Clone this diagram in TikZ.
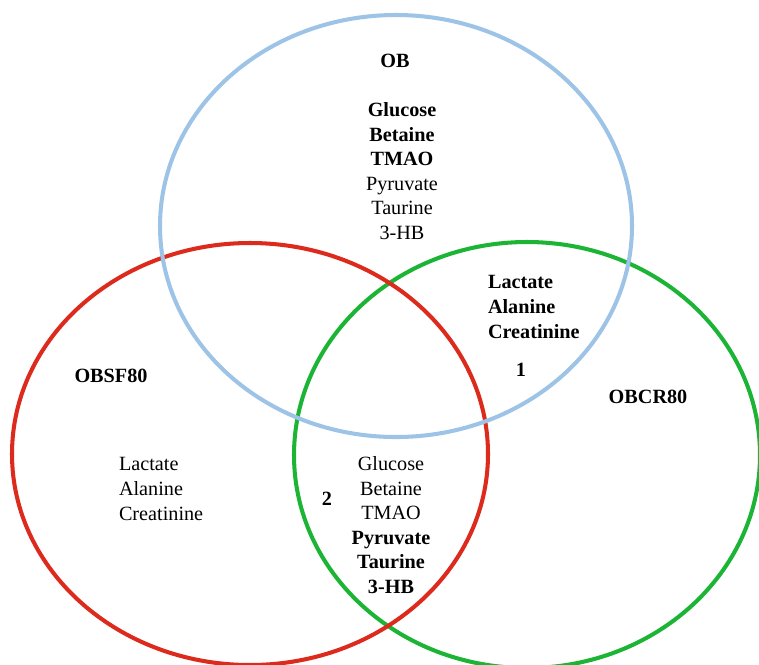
\documentclass[tikz,border=0pt]{standalone}
\usepackage{fontspec}
\setmainfont{Liberation Serif}
\usepackage{tikz}

\definecolor{obblue}{RGB}{157,195,230}
\definecolor{sfred}{RGB}{220,42,28}
\definecolor{crgreen}{RGB}{28,180,52}

\begin{document}
\begin{tikzpicture}[x=0.02cm, y=-0.02cm, line width=2.3pt,
    lbl/.style={font=\fontsize{11.5}{14}\selectfont, inner sep=0pt},
    grp/.style={lbl, font=\fontsize{11.5}{14}\selectfont\bfseries},
    list/.style={lbl, align=center},
    llist/.style={lbl, align=left, anchor=west}]
            \useasboundingbox (0,0) rectangle (759,664);
            \clip (0,0) rectangle (759,664);
            % Sets
            \draw[crgreen] (527,455) ellipse [x radius=233, y radius=213];
            \draw[sfred] (250,454) ellipse [x radius=238, y radius=211];
            \draw[obblue] (396,226) ellipse [x radius=236, y radius=211];
            
            % Group names
            \node[grp] (ob) at (395,61) {OB};
            \node[grp] (obsf) at (111,376) {OBSF80};
            \node[grp] (obcr) at (648,397) {OBCR80};
            
            % OB only
            \node[list] (obonly) at (402,171) {\textbf{Glucose}\\ \textbf{Betaine}\\ \textbf{TMAO}\\ Pyruvate\\ Taurine\\ 3-HB};
            
            % OB and OBCR80
            \node[llist] (obcrlist) at (486,307) {\textbf{Lactate}\\ \textbf{Alanine}\\ \textbf{Creatinine}};
            \node[grp] (one) at (521,370) {1};
            
            % OBSF80 only
            \node[llist] (sflist) at (117,489) {Lactate\\ Alanine\\ Creatinine};
            
            % OBSF80 and OBCR80
            \node[list] (sfcrlist) at (391,525) {Glucose\\ Betaine\\ TMAO\\ \textbf{Pyruvate}\\ \textbf{Taurine}\\ \textbf{3-HB}};
            \node[grp] (two) at (327,499) {2};
        \end{tikzpicture}
\end{document}
